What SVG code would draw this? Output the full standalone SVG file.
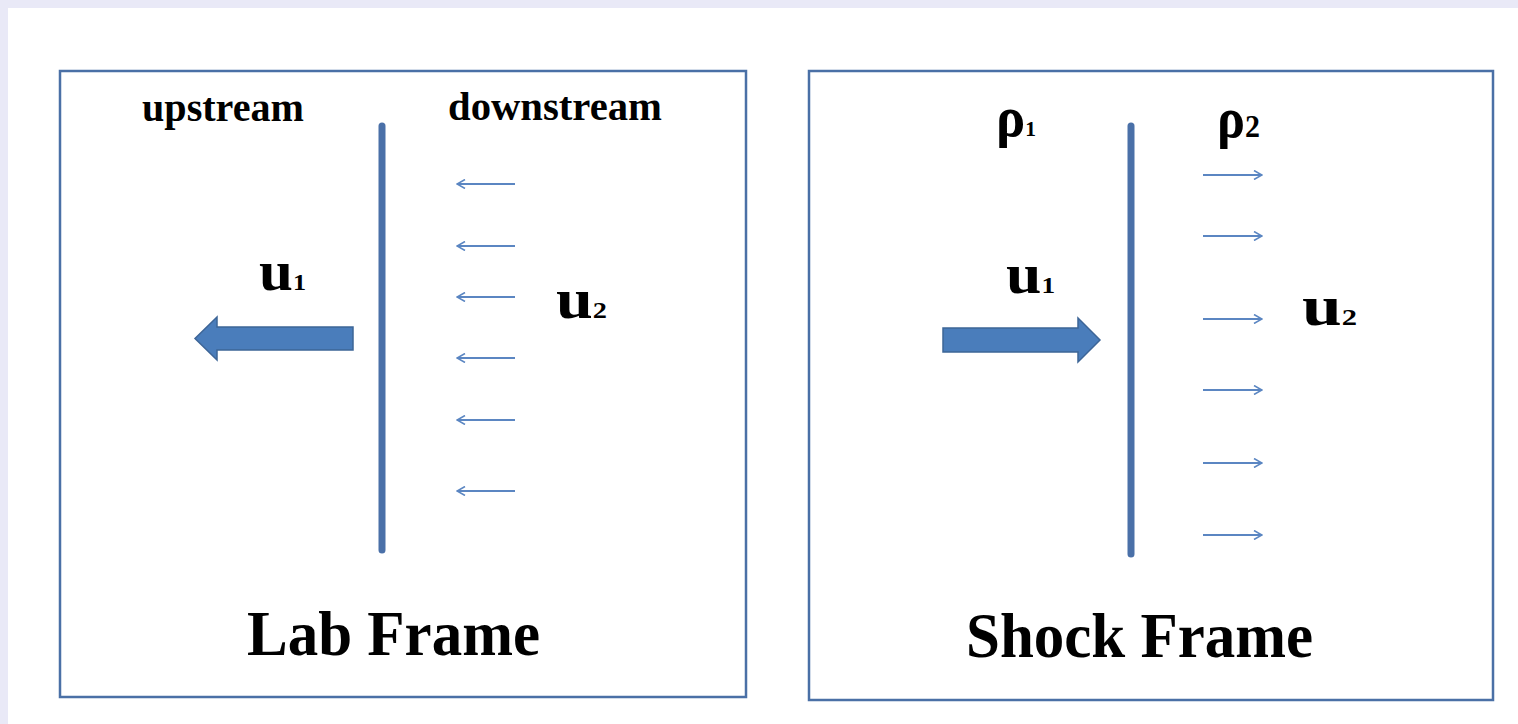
<svg xmlns="http://www.w3.org/2000/svg" width="1518" height="724" viewBox="0 0 1518 724">
  <style>
    .frame { fill: #ffffff; stroke: #4a70a6; stroke-width: 2.5; }
    .shock { stroke: #4a70a8; stroke-width: 7; stroke-linecap: round; fill: none; }
    .bigarrow { fill: #4a7dbb; stroke: #3d6597; stroke-width: 1.5; stroke-linejoin: miter; }
    .flow { stroke: #5b86c2; stroke-width: 2; fill: none; }
    .lbl { font-family: "Liberation Serif", "Times New Roman", serif; font-weight: bold; fill: #000; }
  </style>
  <defs>
    <marker id="open-head" viewBox="0 0 10 10" refX="9" refY="5" markerWidth="10" markerHeight="10" markerUnits="userSpaceOnUse" orient="auto">
      <path d="M1,0.5 L9,5 L1,9.5" fill="none" stroke="#5b86c2" stroke-width="1.6"/>
    </marker>
  </defs>

  <!-- page background with lavender margin -->
  <rect x="0" y="0" width="1518" height="724" fill="#e9e9f7"/>
  <rect x="8" y="8" width="1510" height="716" fill="#ffffff"/>

  <!-- Lab frame -->
  <g id="lab-frame">
    <rect class="frame" x="60" y="71" width="686" height="626"/>
    <text class="lbl" x="142" y="121" font-size="41" textLength="162" lengthAdjust="spacingAndGlyphs">upstream</text>
    <text class="lbl" x="448" y="120" font-size="41" textLength="214" lengthAdjust="spacingAndGlyphs">downstream</text>
    <line class="shock" x1="382" y1="126" x2="382" y2="550"/>
    <path class="bigarrow" d="M353,327 L217,327 L217,317 L195,338.5 L217,360 L217,350 L353,350 Z"/>
    <text class="lbl" x="259" y="290" font-size="56" textLength="47" lengthAdjust="spacingAndGlyphs">u<tspan font-size="24">1</tspan></text>
    <text class="lbl" x="556" y="318" font-size="56" textLength="51" lengthAdjust="spacingAndGlyphs">u<tspan font-size="24">2</tspan></text>
    <text class="lbl" x="247" y="655" font-size="63" textLength="293" lengthAdjust="spacingAndGlyphs">Lab Frame</text>
  </g>

  <!-- Shock frame -->
  <g id="shock-frame">
    <rect class="frame" x="809" y="71" width="684" height="629"/>
    <text class="lbl" x="996" y="136" font-size="56" textLength="40" lengthAdjust="spacingAndGlyphs">ρ<tspan font-size="22">1</tspan></text>
    <text class="lbl" x="1217" y="137" font-size="56" textLength="43" lengthAdjust="spacingAndGlyphs">ρ<tspan font-size="32">2</tspan></text>
    <line class="shock" x1="1131" y1="126" x2="1131" y2="554"/>
    <path class="bigarrow" d="M943,328 L1078,328 L1078,318 L1100,340 L1078,362 L1078,352 L943,352 Z"/>
    <text class="lbl" x="1006" y="293" font-size="56" textLength="49" lengthAdjust="spacingAndGlyphs">u<tspan font-size="24">1</tspan></text>
    <text class="lbl" x="1302" y="325" font-size="56" textLength="55" lengthAdjust="spacingAndGlyphs">u<tspan font-size="24">2</tspan></text>
    <text class="lbl" x="966" y="657" font-size="63" textLength="347" lengthAdjust="spacingAndGlyphs">Shock Frame</text>
  </g>

  <!-- flow arrows -->
  <g id="connectors">
    <line class="flow" x1="515" y1="184" x2="457" y2="184" marker-end="url(#open-head)"/>
    <line class="flow" x1="515" y1="246" x2="457" y2="246" marker-end="url(#open-head)"/>
    <line class="flow" x1="515" y1="297" x2="457" y2="297" marker-end="url(#open-head)"/>
    <line class="flow" x1="515" y1="358" x2="457" y2="358" marker-end="url(#open-head)"/>
    <line class="flow" x1="515" y1="420" x2="457" y2="420" marker-end="url(#open-head)"/>
    <line class="flow" x1="515" y1="491" x2="457" y2="491" marker-end="url(#open-head)"/>

    <line class="flow" x1="1203" y1="175" x2="1262" y2="175" marker-end="url(#open-head)"/>
    <line class="flow" x1="1203" y1="236" x2="1262" y2="236" marker-end="url(#open-head)"/>
    <line class="flow" x1="1203" y1="319" x2="1262" y2="319" marker-end="url(#open-head)"/>
    <line class="flow" x1="1203" y1="390" x2="1262" y2="390" marker-end="url(#open-head)"/>
    <line class="flow" x1="1203" y1="463" x2="1262" y2="463" marker-end="url(#open-head)"/>
    <line class="flow" x1="1203" y1="535" x2="1262" y2="535" marker-end="url(#open-head)"/>
  </g>
</svg>
